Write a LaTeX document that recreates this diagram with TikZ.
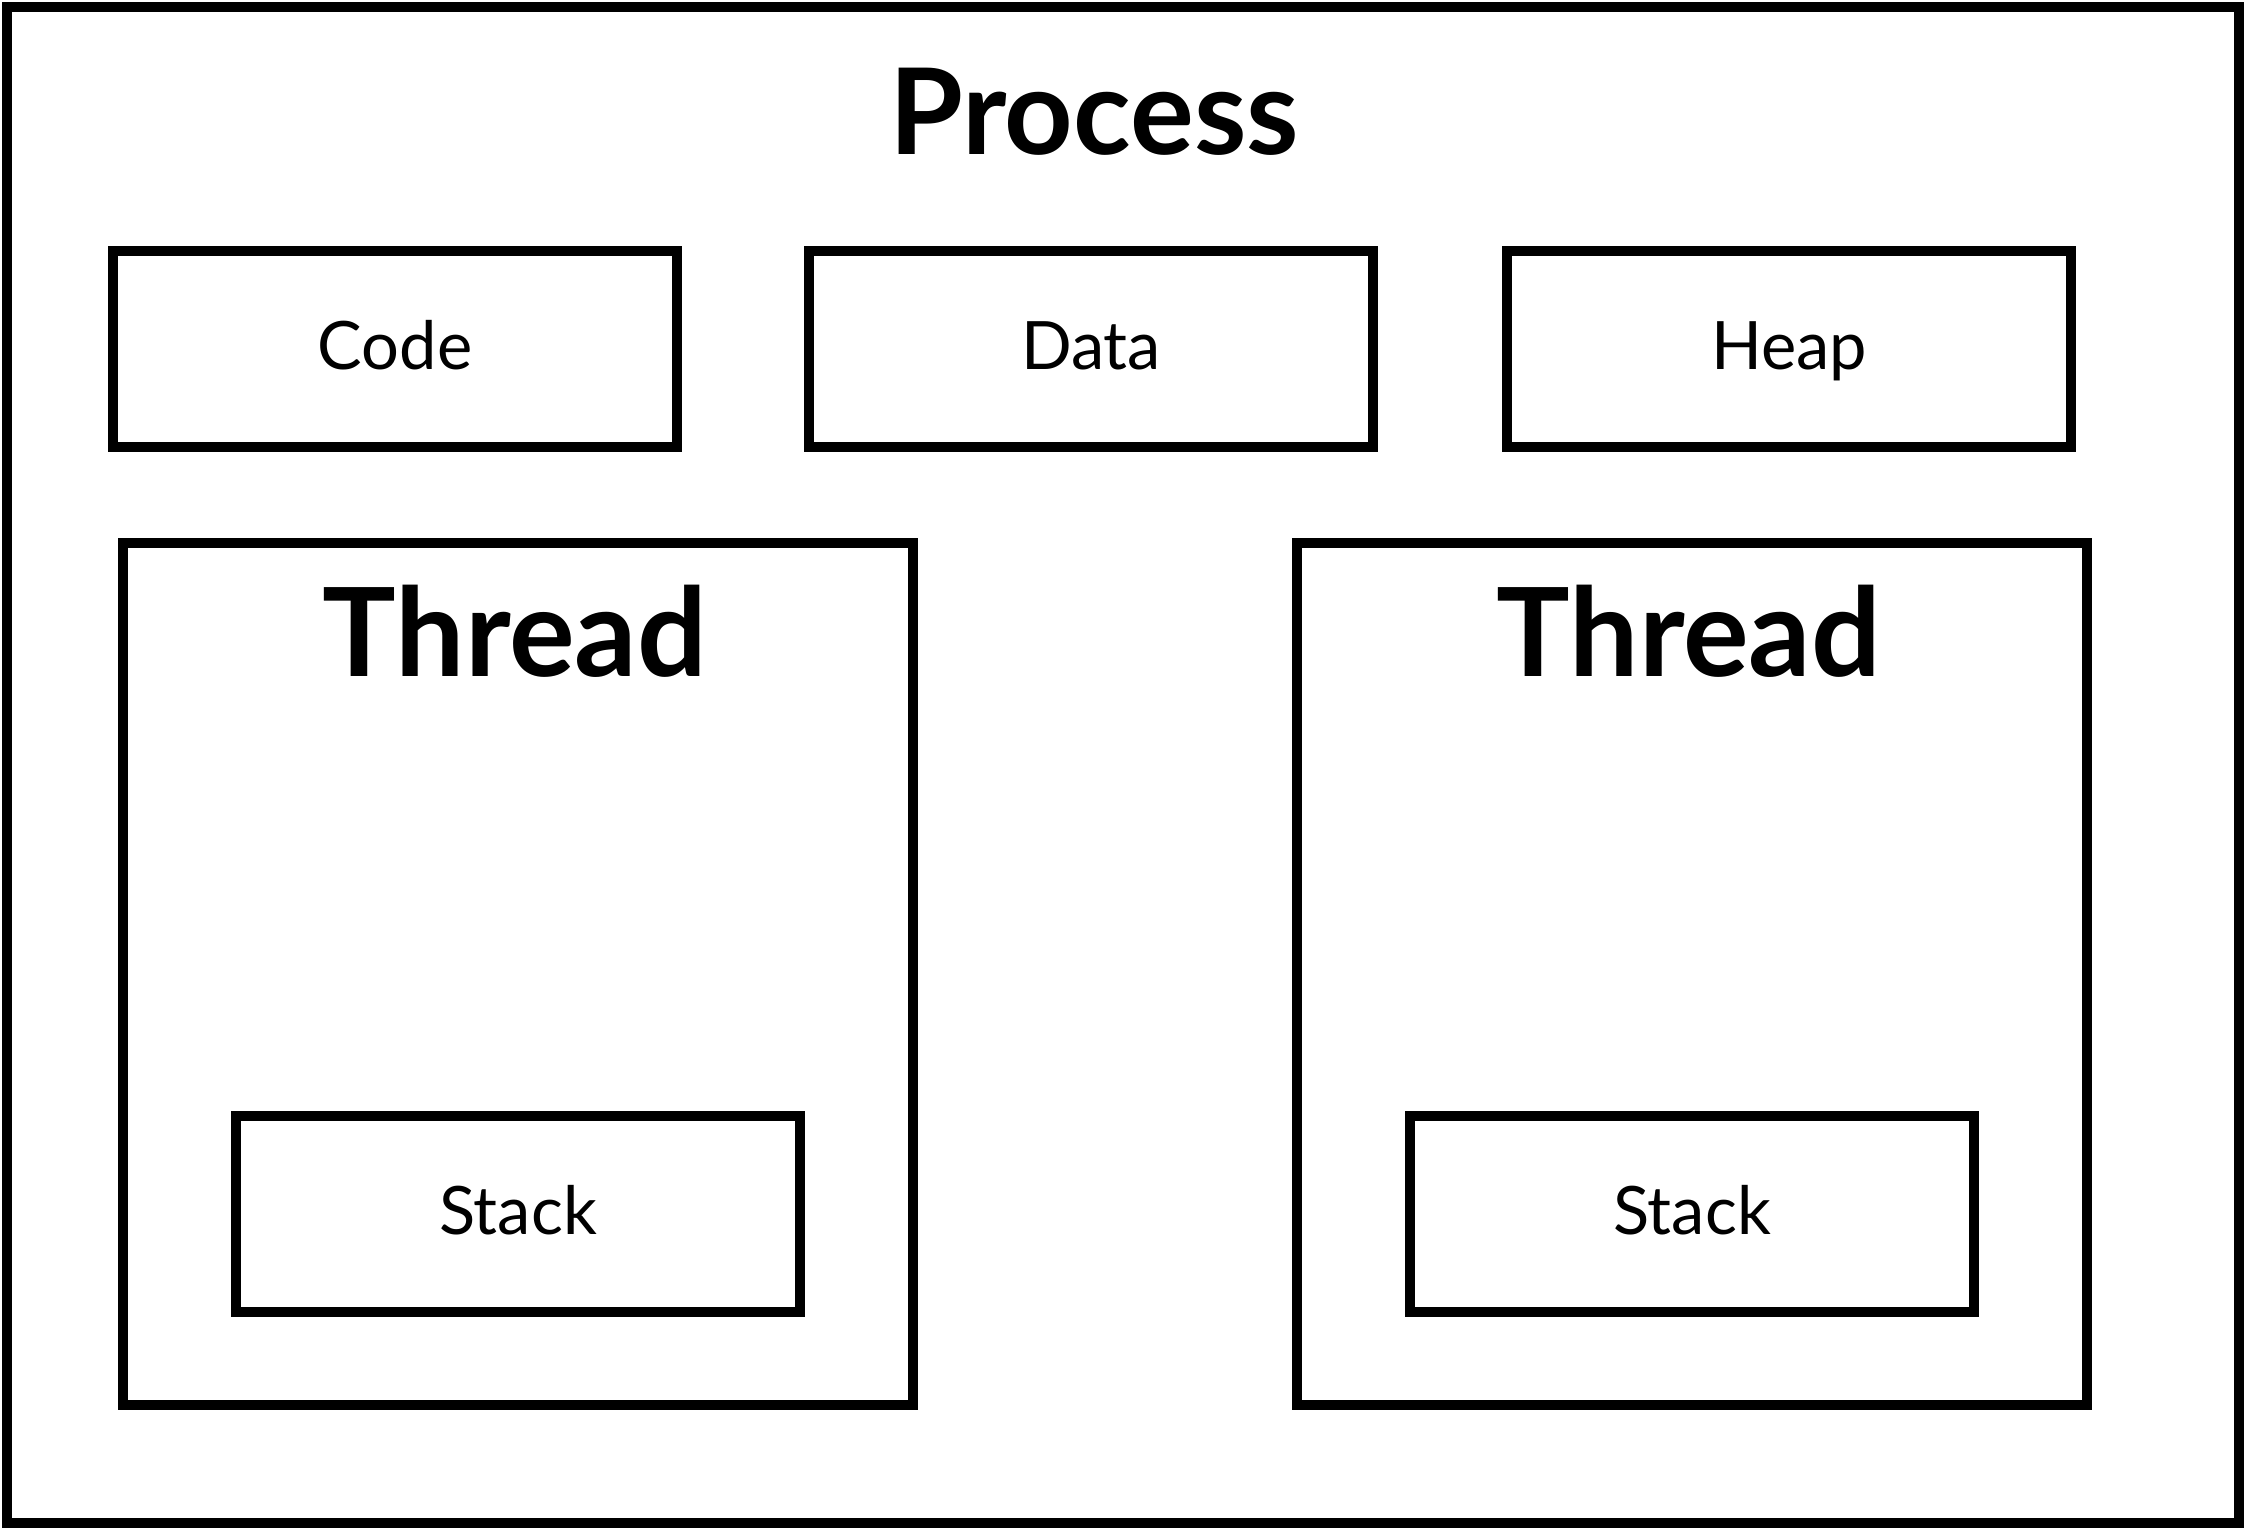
\documentclass[tikz,border=0pt]{standalone}
\usepackage{fontspec}
\setmainfont{Lato}
\usepackage{tikz}
\usetikzlibrary{positioning}

\begin{document}
\begin{tikzpicture}[x=1cm, y=1cm,
  seg/.style={draw, line width=1.05mm, minimum width=5.64cm, minimum height=1.96cm,
    inner sep=0pt, text height=0.42cm, text depth=0pt, font=\fontsize{19}{23}\selectfont},
  thr/.style={draw, line width=1.05mm, minimum width=7.90cm, minimum height=8.62cm, inner sep=0pt},
  ttl/.style={anchor=base, inner sep=0pt, font=\fontsize{35}{42}\selectfont\bfseries}]
\useasboundingbox (0,0) rectangle (22.46,15.30);
%----- processo -----
\node[draw, line width=1.05mm, minimum width=22.32cm, minimum height=15.16cm] (proc) at (11.23,7.65) {};
\node[ttl, font=\fontsize{34}{41}\selectfont\bfseries] (proctitle) at (10.94,13.75) {Process};
% segmenti condivisi
\node[seg] (code) at (3.95,11.81) {Code};
\node[seg] (data) at (10.91,11.81) {Data};
\node[seg] (heap) at (17.89,11.81) {Heap};

%----- thread sinistro -----
\node[thr] (thrA) at (5.18,5.56) {};
\node[ttl] (thrAtitle) at (5.15,8.53) {Thread};
\node[seg] (stackA) at (5.18,3.16) {Stack};

%----- thread destro -----
\node[thr] (thrB) at (16.92,5.56) {};
\node[ttl] (thrBtitle) at (16.89,8.53) {Thread};
\node[seg] (stackB) at (16.92,3.16) {Stack};
\end{tikzpicture}
\end{document}
